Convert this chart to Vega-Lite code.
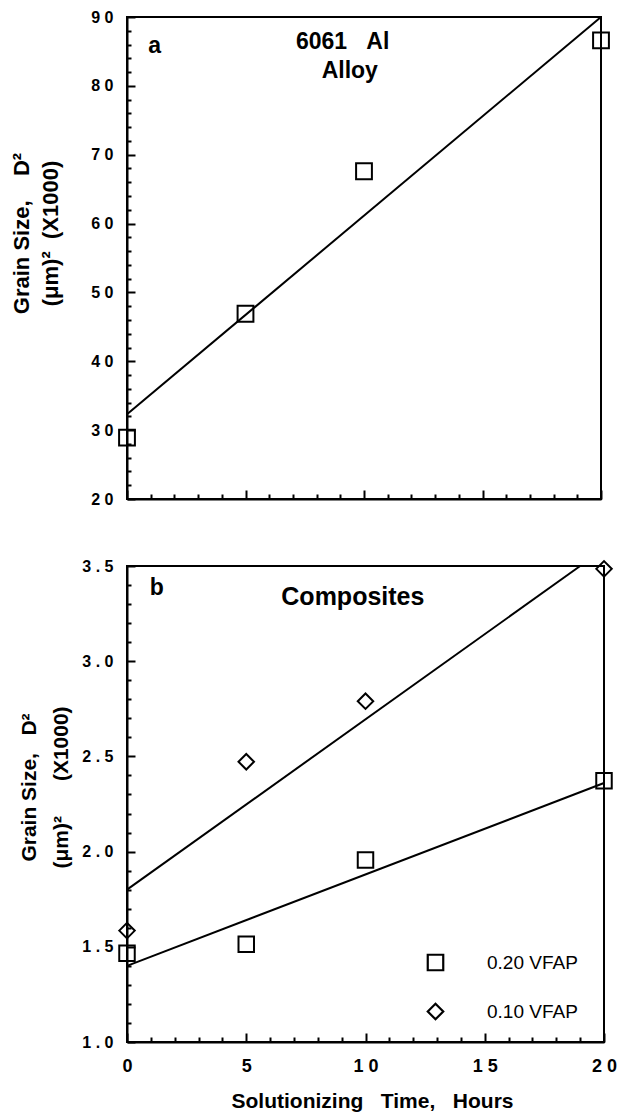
{
  "$schema": "https://vega.github.io/schema/vega-lite/v6.json",
  "background": "white",
  "padding": {"top": 8, "left": 9, "right": 10, "bottom": 0},
  "datasets": {
    "alloy_points": [
      {"hours": 0, "d2": 28.9},
      {"hours": 5, "d2": 46.9},
      {"hours": 10, "d2": 67.6},
      {"hours": 20, "d2": 86.6}
    ],
    "alloy_fit": [
      {"hours": 0, "d2": 32.3},
      {"hours": 20, "d2": 90}
    ],
    "alloy_text": [
      {"hours": 1.17, "d2": 84.8, "label": "a"},
      {"hours": 9.1, "d2": 85.35, "label": "6061\u00a0\u00a0\u00a0Al"},
      {"hours": 9.4, "d2": 81.1, "label": "Alloy"}
    ],
    "comp_points": [
      {"series": "0.20 VFAP", "hours": 0, "d2": 1.466},
      {"series": "0.20 VFAP", "hours": 5, "d2": 1.513},
      {"series": "0.20 VFAP", "hours": 10, "d2": 1.956},
      {"series": "0.20 VFAP", "hours": 20, "d2": 2.372},
      {"series": "0.10 VFAP", "hours": 0, "d2": 1.585},
      {"series": "0.10 VFAP", "hours": 5, "d2": 2.472},
      {"series": "0.10 VFAP", "hours": 10, "d2": 2.79},
      {"series": "0.10 VFAP", "hours": 20, "d2": 3.485}
    ],
    "comp_fit": [
      {"series": "0.20 VFAP", "hours": 0, "d2": 1.40},
      {"series": "0.20 VFAP", "hours": 20, "d2": 2.36},
      {"series": "0.10 VFAP", "hours": 0, "d2": 1.80},
      {"series": "0.10 VFAP", "hours": 19.0, "d2": 3.5}
    ],
    "comp_text": [
      {"hours": 1.25, "d2": 3.348, "label": "b"},
      {"hours": 9.47, "d2": 3.295, "label": "Composites"}
    ]
  },
  "concat": [
    {
      "width": 474,
      "height": 482,
      "encoding": {
        "x": {
          "field": "hours", "type": "quantitative",
          "scale": {"domain": [0, 20], "nice": false, "zero": false},
          "axis": {
            "values": [0,1,2,3,4,5,6,7,8,9,10,11,12,13,14,15,16,17,18,19,20],
            "labels": false,
            "title": null,
            "tickSize": {"condition": {"test": "datum.value % 5 === 0", "value": -9}, "value": -5}
          }
        },
        "y": {
          "field": "d2", "type": "quantitative",
          "scale": {"domain": [20, 90], "nice": false, "zero": false},
          "axis": {
            "values": [20,22,24,26,28,30,32,34,36,38,40,42,44,46,48,50,52,54,56,58,60,62,64,66,68,70,72,74,76,78,80,82,84,86,88,90],
            "labelExpr": "datum.value % 10 === 0 ? join(split(format(datum.value, 'd'), ''), ' ') : ''",
            "tickSize": {"condition": {"test": "datum.value % 10 === 0", "value": -8}, "value": -4},
            "labelFontSize": 16,
            "labelPadding": 22,
            "title": ["Grain Size,\u00a0\u00a0\u00a0\u00a0D²", "(μm)²\u00a0\u00a0(X1000)"],
            "titleFontSize": 22,
            "titleLineHeight": 29,
            "titlePadding": 28,
            "titleY": 216
          }
        }
      },
      "layer": [
        {
          "data": {"name": "alloy_fit"},
          "mark": {"type": "line", "color": "black", "strokeWidth": 2}
        },
        {
          "data": {"name": "alloy_points"},
          "mark": {"type": "point", "shape": "square", "size": 250, "filled": false, "color": "black", "strokeWidth": 2, "opacity": 1}
        },
        {
          "data": {"name": "alloy_text"},
          "mark": {"type": "text", "font": "Liberation Sans", "fontWeight": "bold", "fontSize": 23, "align": "center", "baseline": "alphabetic", "color": "black"},
          "encoding": {"text": {"field": "label"}}
        }
      ]
    },
    {
      "width": 477,
      "height": 476,
      "encoding": {
        "x": {
          "field": "hours", "type": "quantitative",
          "scale": {"domain": [0, 20], "nice": false, "zero": false},
          "axis": {
            "values": [0,1,2,3,4,5,6,7,8,9,10,11,12,13,14,15,16,17,18,19,20],
            "labelExpr": "datum.value % 5 === 0 ? join(split(format(datum.value, 'd'), ''), ' ') : ''",
            "tickSize": {"condition": {"test": "datum.value % 5 === 0", "value": -9}, "value": -5},
            "labelFontSize": 18,
            "labelPadding": 24,
            "title": "Solutionizing\u00a0\u00a0\u00a0Time,\u00a0\u00a0\u00a0Hours",
            "titleFontSize": 21,
            "titlePadding": 11,
            "titleX": 245
          }
        },
        "y": {
          "field": "d2", "type": "quantitative",
          "scale": {"domain": [1.0, 3.5], "nice": false, "zero": false},
          "axis": {
            "values": [1.0,1.1,1.2,1.3,1.4,1.5,1.6,1.7,1.8,1.9,2.0,2.1,2.2,2.3,2.4,2.5,2.6,2.7,2.8,2.9,3.0,3.1,3.2,3.3,3.4,3.5],
            "labelExpr": "abs(datum.value * 2 - round(datum.value * 2)) < 1e-6 ? join(split(format(datum.value, '.1f'), ''), ' ') : ''",
            "tickSize": {"condition": {"test": "abs(datum.value * 2 - round(datum.value * 2)) < 1e-6", "value": -8}, "value": -4},
            "labelFontSize": 16,
            "labelPadding": 22,
            "title": ["Grain Size,\u00a0\u00a0\u00a0D²", "(μm)²\u00a0\u00a0\u00a0\u00a0\u00a0\u00a0(X1000)"],
            "titleFontSize": 21,
            "titleLineHeight": 32,
            "titlePadding": 10,
            "titleY": 221
          }
        }
      },
      "layer": [
        {
          "data": {"name": "comp_fit"},
          "mark": {"type": "line", "color": "black", "strokeWidth": 2},
          "encoding": {"detail": {"field": "series"}}
        },
        {
          "data": {"name": "comp_points"},
          "mark": {"type": "point", "size": 240, "filled": false, "color": "black", "strokeWidth": 2, "opacity": 1},
          "encoding": {
            "shape": {
              "field": "series", "type": "nominal",
              "scale": {"domain": ["0.20 VFAP", "0.10 VFAP"], "range": ["square", "diamond"]},
              "legend": {
                "orient": "none",
                "legendX": 299,
                "legendY": 387,
                "title": null,
                "symbolSize": 240,
                "symbolStrokeWidth": 2.2,
                "symbolStrokeColor": "black",
                "symbolOpacity": 1,
                "labelFont": "Liberation Sans",
                "labelFontSize": 19,
                "labelColor": "black",
                "labelOffset": 42,
                "rowPadding": 24,
                "padding": 0
              }
            }
          }
        },
        {
          "data": {"name": "comp_text"},
          "transform": [{"filter": "datum.label === 'b'"}],
          "mark": {"type": "text", "font": "Liberation Sans", "fontWeight": "bold", "fontSize": 23, "align": "center", "baseline": "alphabetic", "color": "black"},
          "encoding": {"text": {"field": "label"}}
        },
        {
          "data": {"name": "comp_text"},
          "transform": [{"filter": "datum.label === 'Composites'"}],
          "mark": {"type": "text", "font": "Liberation Sans", "fontWeight": "bold", "fontSize": 25, "align": "center", "baseline": "alphabetic", "color": "black"},
          "encoding": {"text": {"field": "label"}}
        }
      ]
    }
  ],
  "columns": 1,
  "spacing": 48,
  "resolve": {"legend": {"shape": "independent"}},
  "config": {
    "font": "Liberation Sans",
    "view": {"stroke": "black", "strokeWidth": 2},
    "axis": {
      "domainColor": "black",
      "domainWidth": 2,
      "tickColor": "black",
      "tickWidth": 2,
      "labelColor": "black",
      "labelFont": "Liberation Sans",
      "labelFontWeight": "bold",
      "titleFont": "Liberation Sans",
      "titleFontWeight": "bold",
      "titleColor": "black",
      "grid": false,
      "labelOverlap": false,
      "labelFlush": false,
      "labelBound": false
    }
  }
}
